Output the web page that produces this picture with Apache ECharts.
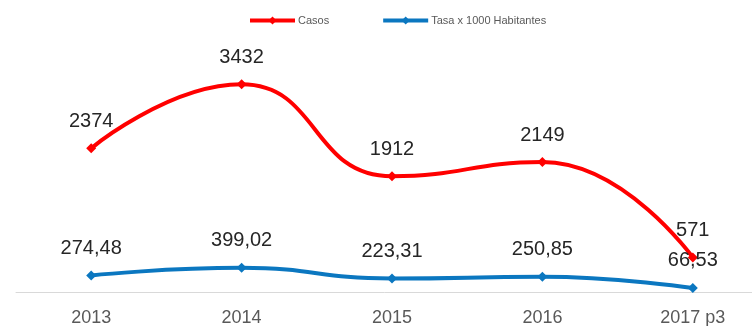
<!DOCTYPE html>
<html>
<head>
<meta charset="utf-8">
<script src="https://cdn.jsdelivr.net/npm/echarts@6/dist/echarts.min.js"></script>
<style>
  html, body { margin: 0; padding: 0; background: #fff; }
  #chart { width: 752px; height: 326px; }
</style>
</head>
<body>
<div id="chart"></div>
<script>
// Years shown on the category axis
const years = ['2013', '2014', '2015', '2016', '2017 p3'];
// Reported cases per year
const casos = [2374, 3432, 1912, 2149, 571];
// Rate per 1000 inhabitants
const tasa = [274.48, 399.02, 223.31, 250.85, 66.53];

const seriesNames = ['Casos', 'Tasa x 1000 Habitantes'];
const fontFamily = "'Liberation Sans', Arial, sans-serif";

// Decimal comma, as used in the labels
const fmt = p => String(p.value).replace('.', ',');

const chart = echarts.init(document.getElementById('chart'), null, { renderer: 'canvas' });

function lineSeries(name, data, color) {
  return {
    name: name,
    type: 'line',
    data: data,
    smooth: 0.5,
    symbol: 'diamond',
    symbolSize: 10,
    lineStyle: { color: color, width: 4 },
    itemStyle: { color: color },
    label: {
      show: true,
      position: 'top',
      distance: 12,
      formatter: fmt,
      fontFamily: fontFamily,
      fontSize: 20,
      color: '#262626'
    },
    emphasis: { disabled: true },
    animation: false
  };
}

chart.setOption({
  animation: false,
  legend: {
    data: seriesNames,
    left: 243,
    top: 10,
    itemWidth: 45,
    itemHeight: 10,
    itemGap: 52,
    lineStyle: { width: 4 },
    textStyle: { fontFamily: fontFamily, fontSize: 11, color: '#595959', padding: [0, 0, 0, -2] }
  },
  grid: { left: 16, right: -16, top: 50, height: 242, outerBoundsMode: 'none', containLabel: false },
  xAxis: {
    type: 'category',
    data: years,
    boundaryGap: true,
    axisLine: { lineStyle: { color: '#D9D9D9', width: 1 } },
    axisTick: { show: false },
    axisLabel: { fontFamily: fontFamily, fontSize: 18, color: '#595959', margin: 17 }
  },
  yAxis: {
    type: 'value',
    min: 0,
    max: 4000,
    show: false,
    splitLine: { show: false }
  },
  series: [
    lineSeries(seriesNames[0], casos, '#FF0000'),
    lineSeries(seriesNames[1], tasa, '#0B77C0')
  ]
});
</script>
</body>
</html>
